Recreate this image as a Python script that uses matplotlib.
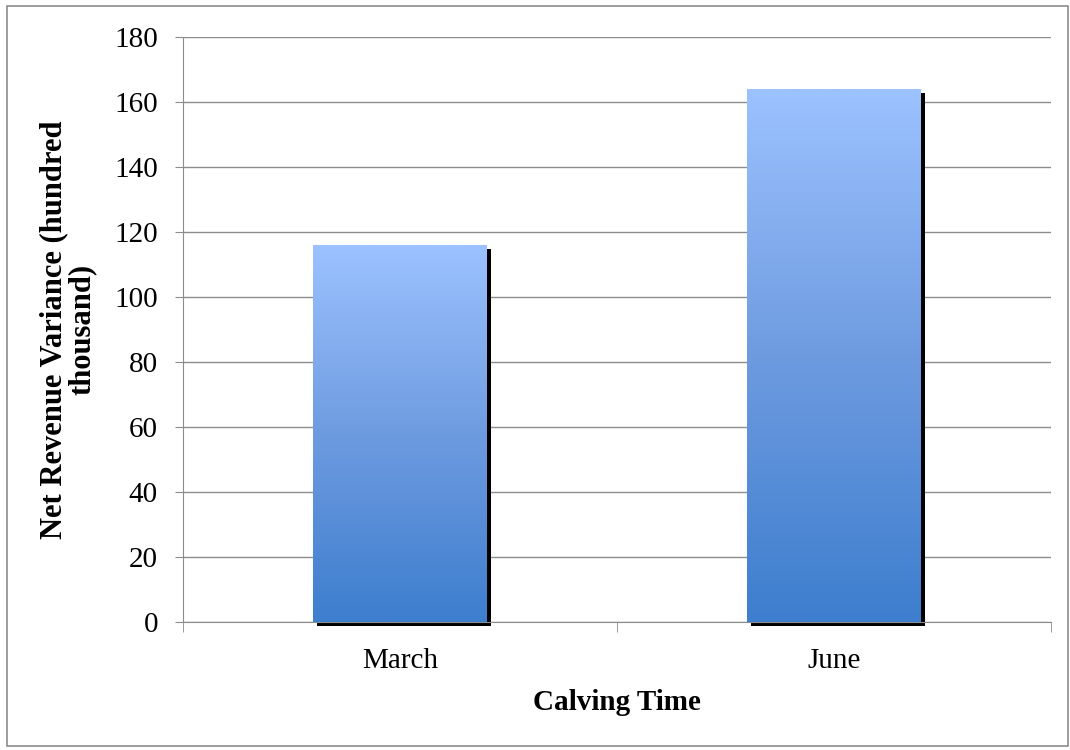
import numpy as np
import matplotlib.pyplot as plt
import matplotlib.transforms as mtransforms
from matplotlib.colors import LinearSegmentedColormap
from matplotlib.patches import Rectangle

categories = ['March', 'June']
variance = [116, 164]

plt.rcParams['font.family'] = ['Liberation Serif', 'DejaVu Serif']

fig = plt.figure(figsize=(10.7, 7.5), dpi=100)
ax = fig.add_axes([0.171, 0.1707, 0.811, 0.78])

# thin grey frame round the whole chart
fig.patches.append(Rectangle((7 / 1070, 4 / 750), 1061 / 1070, 740 / 750,
                             transform=fig.transFigure, fill=False,
                             edgecolor='#8c8c8c', linewidth=1.2))

x = np.arange(len(categories))
width = 0.40
grad = LinearSegmentedColormap.from_list('bar', ['#3d7ece', '#6e9be0', '#9cc2ff'])
gimg = np.linspace(0, 1, 256).reshape(-1, 1)

shadow_tr = mtransforms.offset_copy(ax.transData, fig=fig, x=4, y=-4, units='dots')
for xi, v in zip(x, variance):
    ax.add_patch(Rectangle((xi - width / 2, 0), width, v, facecolor='black',
                           edgecolor='none', transform=shadow_tr, clip_on=False,
                           zorder=2))
    bar = Rectangle((xi - width / 2, 0), width, v, facecolor='none',
                    edgecolor='none', zorder=3)
    ax.add_patch(bar)
    im = ax.imshow(gimg, cmap=grad, aspect='auto', origin='lower',
                   extent=(xi - width / 2, xi + width / 2, 0, v), zorder=3)
    im.set_clip_path(bar)

ax.set_xlim(-0.5, 1.5)
ax.set_ylim(0, 180)
ax.set_yticks(np.arange(0, 181, 20))
ax.yaxis.grid(True, color='#8c8c8c', linewidth=1)
ax.set_axisbelow(True)

ax.set_xticks(x)
ax.set_xticklabels(categories, fontsize=21)
ax.tick_params(axis='x', length=0, pad=19)
ax.set_xticks([-0.5, 0.5, 1.5], minor=True)
ax.tick_params(axis='x', which='minor', length=7, color='#8c8c8c')
ax.tick_params(axis='y', labelsize=21, length=6, color='#8c8c8c', pad=12)

for s in ['top', 'right']:
    ax.spines[s].set_visible(False)
for s in ['left', 'bottom']:
    ax.spines[s].set_color('#8c8c8c')

ax.set_xlabel('Calving Time', fontsize=21, fontweight='bold')
ax.xaxis.set_label_coords(0.5, -0.115)
ax.set_ylabel('Net Revenue Variance (hundred\nthousand)', fontsize=22,
              fontweight='bold', linespacing=1.0)
ax.yaxis.set_label_coords(-0.099, 0.5)

fig.savefig('out.png', dpi=100)
